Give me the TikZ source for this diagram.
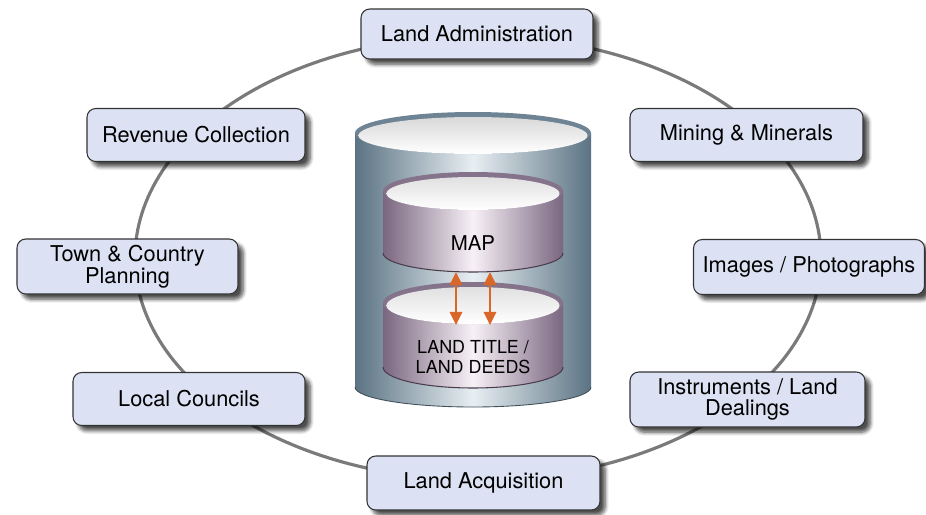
\documentclass[tikz,border=0pt]{standalone}
\usepackage{fontspec}
\setmainfont{TeX Gyre Heros}
\usetikzlibrary{arrows.meta,shadows.blur}
\definecolor{boxfill}{HTML}{DCE2F3}
\definecolor{ringgray}{HTML}{7A7A7A}
\definecolor{cyldark}{HTML}{5B7383}
\definecolor{cyllight}{HTML}{E8EFF3}
\definecolor{cylrim}{HTML}{6E8494}
\definecolor{diskdark}{HTML}{7A6680}
\definecolor{disklight}{HTML}{F7F1F6}
\definecolor{diskrim}{HTML}{84738A}
\definecolor{arroworange}{HTML}{D9672A}
% side of a drum: x, top y, bottom y, x radius, y radius
\def\drumside[#1](#2,#3,#4:#5:#6){\shade[#1] (#2-#5,#3) -- (#2-#5,#4) arc (180:360:#5 and #6) -- (#2+#5,#3) -- cycle;}
% lid of a drum: x, y, x radius, y radius
\def\drumlid[#1][#2](#3,#4:#5:#6){\fill[#1] (#3,#4) ellipse (#5 and #6);
  \shade[#2] (#3,#4-0.05) ellipse (#5-0.07 and #6-0.05);}
\tikzset{
  topicbox/.style={draw=black!80, line width=0.6pt, fill=boxfill, rounded corners=5pt,
    align=center, inner sep=0pt, font=\fontsize{12.4}{11.5}\selectfont,
    blur shadow={shadow xshift=3pt, shadow yshift=-3pt, shadow blur steps=6, shadow opacity=70}},
  ringline/.style={draw=ringgray, line width=1.8pt},
  linkarrow/.style={draw=arroworange, line width=1.3pt,
    {Triangle[length=7.5pt,width=7pt]}-{Triangle[length=7.5pt,width=7pt]}}
}
\begin{document}
\begin{tikzpicture}
			%%%%% START %%%%%
			\useasboundingbox (0,0) rectangle (18.52,-10.30);
			
			\draw[ringline] (9.56,-5.16) ellipse (6.86 and 4.44);
			
			% database cylinder
			\drumside[left color=cyldark, right color=cyldark, middle color=cyllight](9.46,-2.66,-7.74:2.36:0.40)
			\draw[cyldark!70!black, line width=0.5pt] (9.46-2.36,-7.74) arc (180:360:2.36 and 0.40);
			\drumlid[cylrim][top color=black!15, bottom color=white](9.46,-2.66:2.36:0.42)
			
			\drumside[left color=diskdark, right color=diskdark, middle color=disklight](9.46,-3.82,-5.06:1.80:0.38)
			\draw[diskdark!60!black, line width=0.6pt] (9.46-1.80,-5.06) arc (180:360:1.80 and 0.38);
			\drumlid[diskrim][top color=black!12, bottom color=white](9.46,-3.82:1.80:0.38)
			
			\drumside[left color=diskdark, right color=diskdark, middle color=disklight](9.46,-6.06,-7.34:1.80:0.42)
			\draw[diskdark!60!black, line width=0.6pt] (9.46-1.80,-7.34) arc (180:360:1.80 and 0.42);
			\drumlid[diskrim][top color=black!12, bottom color=white](9.46,-6.06:1.80:0.42)
			
			\node (maplabel) at (9.46,-4.86) {\fontsize{11.6}{12}\selectfont MAP};
			\node[align=center, font=\fontsize{10.2}{11.3}\selectfont] (deedslabel) at (9.46,-7.14) {LAND TITLE /\\LAND DEEDS};
			
			\coordinate (maparrowL) at (9.12,-5.44);
			\coordinate (deedarrowL) at (9.12,-6.50);
			\coordinate (maparrowR) at (9.80,-5.44);
			\coordinate (deedarrowR) at (9.80,-6.50);
			\draw[linkarrow] (maparrowL) -- (deedarrowL);
			\draw[linkarrow] (maparrowR) -- (deedarrowR);
			
			% boxes round the ring
			\node[topicbox, minimum width=4.64cm, minimum height=1.00cm] (admin) at (9.54,-0.68) {Land Administration};
			\node[topicbox, minimum width=4.36cm, minimum height=1.06cm] (revenue) at (3.92,-2.70) {Revenue Collection};
			\node[topicbox, minimum width=4.66cm, minimum height=1.06cm] (mining) at (14.93,-2.70) {Mining \& Minerals};
			\node[topicbox, minimum width=4.42cm, minimum height=1.10cm] (town) at (2.55,-5.33) {Town \& Country\\Planning};
			\node[topicbox, minimum width=4.62cm, minimum height=1.10cm] (images) at (16.18,-5.34) {Images / Photographs};
			\node[topicbox, minimum width=4.64cm, minimum height=1.06cm] (councils) at (3.78,-7.98) {Local Councils};
			\node[topicbox, minimum width=4.70cm, minimum height=1.10cm] (instruments) at (14.95,-7.99) {Instruments / Land\\Dealings};
			\node[topicbox, minimum width=4.66cm, minimum height=1.08cm] (acquisition) at (9.67,-9.66) {Land Acquisition};
			
			%%%%% END %%%%%
\end{tikzpicture}
\end{document}
